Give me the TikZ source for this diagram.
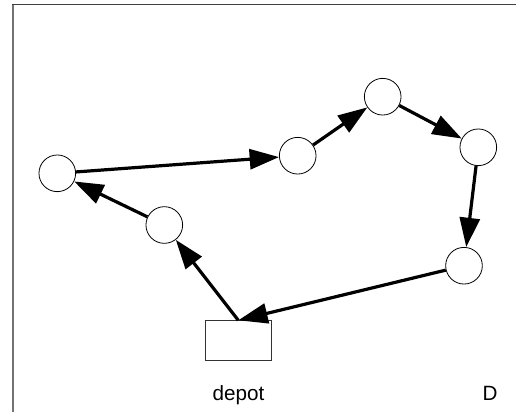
\documentclass[tikz,border=0pt]{standalone}
\usepackage{fontspec}
\setmainfont{Liberation Sans}
\usetikzlibrary{arrows.meta}

\begin{document}
\begin{tikzpicture}[x=0.75pt,y=-0.75pt,
	kunde/.style={circle,draw,line width=0.6pt,minimum size=27.5pt,inner sep=0pt},
	lager/.style={rectangle,draw=black!80,line width=0.6pt,minimum width=50pt,minimum height=30pt,inner sep=0pt},
	tour/.style={line width=2.4pt,-{Triangle[length=22pt,width=15pt]}},
	beschr/.style={anchor=base,font=\fontsize{15.5}{18}\selectfont}]
	
	\useasboundingbox (0,0) rectangle (516,412);
	
	%Rahmen
	\draw[black!55,line width=1.5pt] (13,412) -- (13,4.5);	%linke Seite
	\draw[black!75,line width=1pt] (12.4,4.5) -- (516,4.5);	%Oberseite
	
	%Kunden und Depot
	\node[kunde] (k1) at (57.3,173.3) {};
	\node[kunde] (k2) at (164.3,225) {};
	\node[kunde] (k3) at (297.7,155.7) {};
	\node[kunde] (k4) at (382.7,96.7) {};
	\node[kunde] (k5) at (478.3,147.3) {};
	\node[kunde] (k6) at (464,265.7) {};
	\node[lager] (depot) at (238.3,340.7) {};
	
	%Beschriftungen
	\node[beschr] (ldepot) at (238.5,400) {depot};
	\node[beschr] (lD) at (490,400) {D};
	
	%Tour
	\draw[tour] (depot.north) -- (k2);
	\draw[tour] (k2) -- (k1);
	\draw[tour] (k1) -- (k3);
	\draw[tour] (k3) -- (k4);
	\draw[tour] (k4) -- (k5);
	\draw[tour] (k5) -- (k6);
	\draw[tour] (k6) -- (depot.north);
	
\end{tikzpicture}
\end{document}
